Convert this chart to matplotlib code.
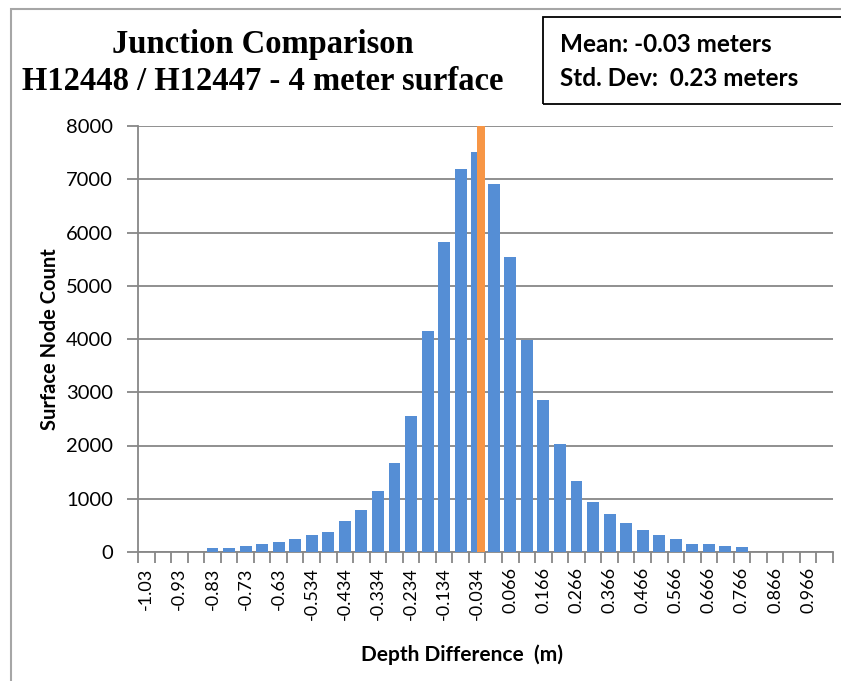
import matplotlib
matplotlib.use("Agg")
import matplotlib.pyplot as plt
from matplotlib.patches import Rectangle
import numpy as np

# histogram bins (every 0.05 m), labels shown on every other bin
bin_labels = ["-1.03", "", "-0.93", "", "-0.83", "", "-0.73", "", "-0.63", "",
              "-0.534", "", "-0.434", "", "-0.334", "", "-0.234", "", "-0.134", "",
              "-0.034", "", "0.066", "", "0.166", "", "0.266", "", "0.366", "",
              "0.466", "", "0.566", "", "0.666", "", "0.766", "", "0.866", "",
              "0.966", ""]
counts = [0, 0, 0, 0, 80, 80, 120, 150, 190, 250,
          320, 380, 580, 780, 1150, 1670, 2560, 4150, 5830, 7190,
          7520, 6920, 5540, 3990, 2860, 2020, 1340, 940, 710, 540,
          410, 310, 240, 150, 150, 120, 90, 0, 0, 0,
          0, 0]
mean_bin = "-0.034"
mean_height = 8000

BLUE = "#558ED5"
ORANGE = "#F79646"
GRID = "#878787"
SANS = ["Lato", "DejaVu Sans"]

fig = plt.figure(figsize=(8.41, 6.81), dpi=100)
ax = fig.add_axes([138 / 841, 1 - 552 / 681, (833 - 138) / 841, (552 - 126) / 681])

x = np.arange(len(counts))
ax.bar(x, counts, width=0.72, color=BLUE, zorder=3)
mi = bin_labels.index(mean_bin)
ax.bar(mi + 0.24, mean_height, width=0.48, color=ORANGE, zorder=4, clip_on=False)

ax.set_xlim(-0.5, len(counts) - 0.5)
ax.set_ylim(0, 8000)
ax.set_yticks(np.arange(0, 8001, 1000))
ax.yaxis.grid(True, color=GRID, lw=1.3, zorder=0)

labelled = [i for i, s in enumerate(bin_labels) if s]
ax.set_xticks(labelled)
ax.set_xticklabels([bin_labels[i] for i in labelled], rotation=90,
                   fontsize=13, family=SANS)
ax.set_xticks(np.arange(-0.5, len(counts)), minor=True)
ax.tick_params(axis="x", which="major", length=0, pad=11)
ax.tick_params(axis="x", which="minor", length=8, width=1.3, color=GRID, direction="out")
ax.tick_params(axis="y", length=8, width=1.3, color=GRID, pad=10, labelsize=14.5)
for lab in ax.get_yticklabels():
    lab.set_family(SANS)

for side in ("top", "right"):
    ax.spines[side].set_visible(False)
for side in ("left", "bottom"):
    ax.spines[side].set_color(GRID)
    ax.spines[side].set_linewidth(1.3)

ax.set_xlabel("Depth Difference  (m)", fontsize=15, fontweight="bold", family=SANS, va="center")
ax.xaxis.set_label_coords((462 - 138) / 695, (552 - 655) / 426)
ax.set_ylabel("Surface Node Count", fontsize=14.5, fontweight="bold", family=SANS, va="center")
ax.yaxis.set_label_coords((50 - 138) / 695, (552 - 339) / 426)

# chart titles
fig.text(263 / 841, 1 - 45 / 681, "Junction Comparison", ha="center", va="center",
         fontsize=23.5, fontweight="bold", family="Liberation Serif")
fig.text(263 / 841, 1 - 81 / 681, "H12448 / H12447 - 4 meter surface", ha="center", va="center",
         fontsize=23.5, fontweight="bold", family="Liberation Serif")

# stats box
fig.patches.append(Rectangle((543 / 841, 1 - 104 / 681), 0.5, 87 / 681, transform=fig.transFigure,
                             fill=False, ec="black", lw=1.3))
fig.text(560 / 841, 1 - 45 / 681, "Mean: -0.03 meters", ha="left", va="center",
         fontsize=17.5, fontweight="bold", family=SANS)
fig.text(560 / 841, 1 - 79 / 681, "Std. Dev:  0.23 meters", ha="left", va="center",
         fontsize=17.5, fontweight="bold", family=SANS)

# chart area border
fig.patches.append(Rectangle((11 / 841, -0.1), 1.2, 1.1 - 9 / 681, transform=fig.transFigure,
                             fill=False, ec="#A6A6A6", lw=1.5))

fig.savefig("out.png", dpi=100)
